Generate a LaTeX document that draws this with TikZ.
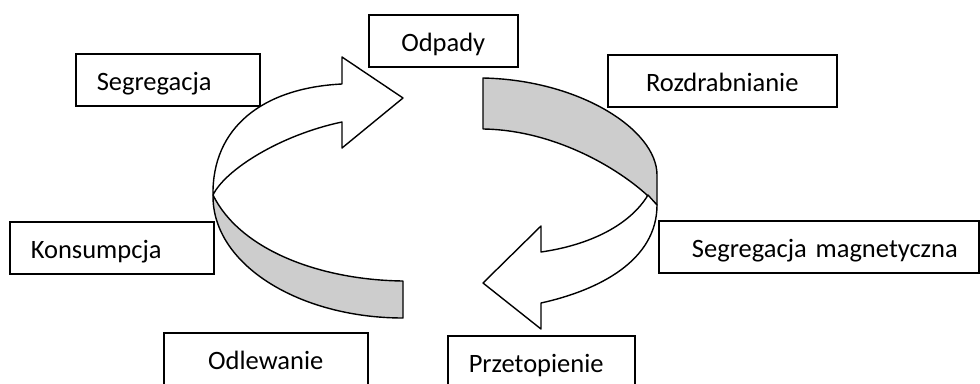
\documentclass[tikz,border=0pt]{standalone}
\usepackage{fontspec}
\setmainfont{Carlito}
\usetikzlibrary{positioning}
\definecolor{bandgray}{RGB}{205,205,205}

\begin{document}
\begin{tikzpicture}[x=1pt,y=-1pt,
        box/.style={draw, line width=1.5pt, minimum height=52pt, inner sep=0pt,
            text height=21pt, text depth=0pt, anchor=north west,
            font=\fontsize{26.5}{30}\selectfont},
        cbox/.style={box, minimum width=#1},
        lbox/.style={box, inner xsep=21pt, text width=#1, align=left},
        rbox/.style={box, inner xsep=21pt, text width=#1, align=right},
        band/.style={draw, line width=1.4pt, line join=round}]
    \clip (0,0) rectangle (980,383);
    % etapy
    \node[cbox=149pt] (odpady) at (368,14) {Odpady};
    \node[lbox=142pt] (segreg) at (75,53) {Segregacja};
    \node[cbox=229pt] (rozdrab) at (607,54) {Rozdrabnianie};
    \node[lbox=162pt] (konsum) at (9,221) {Konsumpcja};
    \node[rbox=278pt] (segmag) at (658,220) {Segregacja magnetyczna};
    \node[cbox=204pt] (odlew) at (163,332) {Odlewanie};
    \node[lbox=145pt] (przetop) at (447,335) {Przetopienie};
    % lewa strzalka
    \draw[band, fill=bandgray] (213,195) .. controls (240,250) and (320,280) .. (403,281)
        -- (403,318) .. controls (300,318) and (212,265) .. (213,195) -- cycle;
    \draw[band, fill=white] (342,84) -- (342,57) -- (403,98) -- (342,148) -- (342,122)
        .. controls (280,135) and (225,170) .. (213,195)
        .. controls (212,128) and (262,88) .. (342,84) -- cycle;
    % prawa strzalka
    \draw[band, fill=bandgray] (483,78) .. controls (580,80) and (657,130) .. (657,175)
        -- (657,205) .. controls (630,175) and (560,130) .. (483,129) -- cycle;
    \draw[band, fill=white] (657,205) .. controls (657,260) and (600,290) .. (541,303)
        -- (541,329) -- (483,283) -- (541,226) -- (541,252)
        .. controls (590,245) and (630,225) .. (648,195) -- cycle;
\end{tikzpicture}
\end{document}
